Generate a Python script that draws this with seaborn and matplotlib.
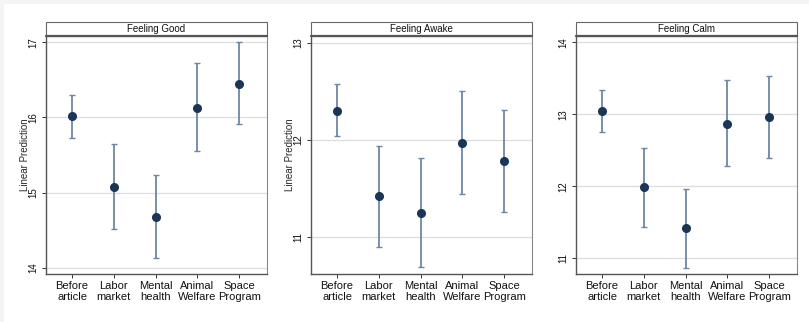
import matplotlib
matplotlib.use("Agg")
import matplotlib.pyplot as plt
import seaborn as sns
import pandas as pd
from matplotlib.patches import Rectangle

categories = ["Before\narticle", "Labor\nmarket", "Mental\nhealth", "Animal\nWelfare", "Space\nProgram"]
panels = ["Feeling Good", "Feeling Awake", "Feeling Calm"]

good_est = [16.02, 15.08, 14.68, 16.13, 16.45]
good_lo = [15.73, 14.51, 14.13, 15.55, 15.91]
good_hi = [16.30, 15.65, 15.24, 16.72, 17.00]

awake_est = [12.30, 11.42, 11.25, 11.97, 11.78]
awake_lo = [12.04, 10.90, 10.69, 11.44, 11.26]
awake_hi = [12.57, 11.94, 11.81, 12.50, 12.31]

calm_est = [13.04, 11.99, 11.42, 12.87, 12.96]
calm_lo = [12.75, 11.44, 10.87, 12.28, 12.40]
calm_hi = [13.34, 12.53, 11.97, 13.47, 13.53]

yticks_good = [14, 15, 16, 17]
yticks_awake = [11, 12, 13]
yticks_calm = [11, 12, 13, 14]

sns.set_theme(style="white")
plt.rcParams["font.family"] = ["Liberation Sans", "DejaVu Sans"]

W, H = 809, 322
fig = plt.figure(figsize=(W / 100, H / 100), dpi=100, facecolor="#f4f4f4")
fig.patches.append(Rectangle((4 / W, 0), 1, 1 - 4 / H, transform=fig.transFigure,
                             facecolor="white", edgecolor="none", zorder=-10))

dot_color = "#1b3556"
bar_color = "#6e86a2"
frame_color = "#555555"

specs = [
    (panels[0], good_est, good_lo, good_hi, yticks_good, (13.91, 17.09), 45.7, True),
    (panels[1], awake_est, awake_lo, awake_hi, yticks_awake, (10.62, 13.07), 310.7, True),
    (panels[2], calm_est, calm_lo, calm_hi, yticks_calm, (10.78, 14.09), 575.7, False),
]

bottom_px, top_px = 274.3, 35.7
strip_px = 13.4
for title, est, lo, hi, yt, ylim, left_px, show_ylabel in specs:
    ax = fig.add_axes([left_px / W, (H - bottom_px) / H, 221 / W, (bottom_px - top_px) / H])
    ax.set_facecolor("white")
    df = pd.DataFrame({"cat": categories, "est": est, "lo": lo, "hi": hi})
    df["cat"] = pd.Categorical(df["cat"], categories=categories, ordered=True)
    pos = list(range(len(categories)))
    ax.errorbar(pos, df["est"], yerr=[df["est"] - df["lo"], df["hi"] - df["est"]],
                fmt="none", ecolor=bar_color, elinewidth=1.3, capsize=2.0, capthick=1.0, zorder=2)
    sns.pointplot(data=df, x="cat", y="est", order=categories, linestyle="none",
                  color=dot_color, markers="o", markersize=4.5, errorbar=None, ax=ax, zorder=3)
    ax.set_xlim(-0.63, 4.66)
    ax.set_ylim(*ylim)
    ax.set_yticks(yt)
    ax.set_yticklabels([str(v) for v in yt], rotation=90, va="center", fontsize=7)
    ax.set_xticks(pos)
    ax.set_xticklabels(categories, fontsize=8, linespacing=1.05)
    ax.set_xlabel("")
    ax.set_ylabel("Linear Prediction" if show_ylabel else "", fontsize=7)
    ax.yaxis.set_label_coords(-0.072, 0.5)
    ax.yaxis.grid(True, color="#dddddd", linewidth=0.9)
    ax.set_axisbelow(True)
    ax.tick_params(axis="both", which="both", direction="out", length=3, width=0.7,
                   colors="#333333", labelcolor="#111111", left=True, bottom=True, pad=2)
    for s in ["left", "bottom"]:
        ax.spines[s].set_color(frame_color)
        ax.spines[s].set_linewidth(1.0)
    for s in ["right", "top"]:
        ax.spines[s].set_color("#888888")
        ax.spines[s].set_linewidth(0.8)
    h = strip_px / (bottom_px - top_px)
    ax.add_patch(Rectangle((0, 1), 1, h, transform=ax.transAxes, facecolor="white",
                           edgecolor="#666666", linewidth=0.8, clip_on=False))
    ax.plot([0, 1], [1, 1], transform=ax.transAxes, color="#555555", linewidth=1.6,
            clip_on=False, zorder=5)
    ax.text(0.5, 1 + h / 2, title, transform=ax.transAxes, ha="center", va="center",
            fontsize=7, color="#111111")

fig.savefig("out.png", dpi=100, facecolor=fig.get_facecolor())
